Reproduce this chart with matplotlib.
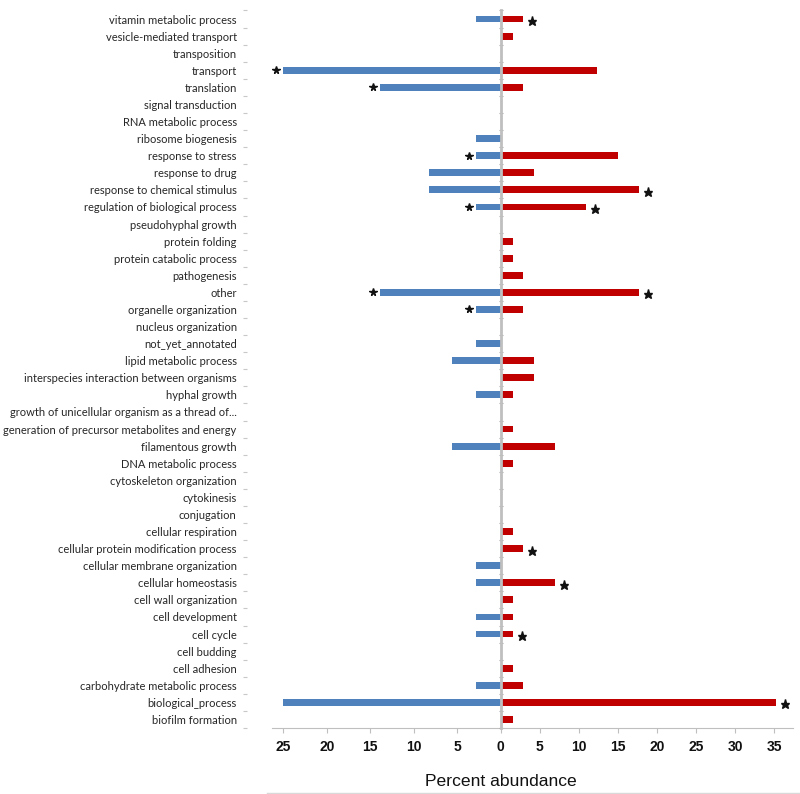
import matplotlib
matplotlib.use("Agg")
import matplotlib.pyplot as plt
from matplotlib.transforms import offset_copy
import numpy as np

categories = [
    "vitamin metabolic process", "vesicle-mediated transport", "transposition",
    "transport", "translation", "signal transduction", "RNA metabolic process",
    "ribosome biogenesis", "response to stress", "response to drug",
    "response to chemical stimulus", "regulation of biological process",
    "pseudohyphal growth", "protein folding", "protein catabolic process",
    "pathogenesis", "other", "organelle organization", "nucleus organization",
    "not_yet_annotated", "lipid metabolic process",
    "interspecies interaction between organisms", "hyphal growth",
    "growth of unicellular organism as a thread of...",
    "generation of precursor metabolites and energy", "filamentous growth",
    "DNA metabolic process", "cytoskeleton organization", "cytokinesis",
    "conjugation", "cellular respiration", "cellular protein modification process",
    "cellular membrane organization", "cellular homeostasis",
    "cell wall organization", "cell development", "cell cycle", "cell budding",
    "cell adhesion", "carbohydrate metabolic process", "biological_process",
    "biofilm formation",
]
blue_values = [2.8, 0, 0, 25.0, 13.9, 0, 0, 2.8, 2.8, 8.3, 8.3, 2.8, 0, 0, 0, 0,
               13.9, 2.8, 0, 2.8, 5.6, 0, 2.8, 0, 0, 5.6, 0, 0, 0, 0, 0, 0,
               2.8, 2.8, 0, 2.8, 2.8, 0, 0, 2.8, 25.0, 0]
red_values = [2.7, 1.4, 0, 12.2, 2.7, 0, 0, 0, 14.8, 4.1, 17.5, 10.8, 0, 1.4, 1.4,
              2.7, 17.5, 2.7, 0, 0, 4.1, 4.1, 1.4, 0, 1.4, 6.8, 1.4, 0, 0, 0,
              1.4, 2.7, 0, 6.8, 1.4, 1.4, 1.4, 0, 1.4, 2.7, 35.0, 1.4]
blue_star = ["transport", "translation", "response to stress",
             "regulation of biological process", "other", "organelle organization"]
red_star = ["vitamin metabolic process", "response to chemical stimulus",
            "regulation of biological process", "other",
            "cellular protein modification process", "cellular homeostasis",
            "cell cycle", "biological_process"]
left_ticks = [25, 20, 15, 10, 5, 0]
right_ticks = [5, 10, 15, 20, 25, 30, 35]

BLUE = "#4F81BD"
RED = "#C00000"
GRAY = "#BFBFBF"

W, H = 800, 794
fig = plt.figure(figsize=(W / 100, H / 100), dpi=100)

top_px, bot_px = 10.5, 728.0
x_lab, x_zero, x_end = 245.0, 500.7, 793.0
b = (H - bot_px) / H
h = (bot_px - top_px) / H

axL = fig.add_axes([x_lab / W, b, (x_zero - x_lab) / W, h])
axR = fig.add_axes([x_zero / W, b, (x_end - x_zero) / W, h])

n = len(categories)
y = np.arange(n)

# left (blue) axis: 8.69 px per unit
pxL = 8.69
axL.barh(y, blue_values, height=0.4, color=BLUE, zorder=2)
axL.set_xlim((x_zero - x_lab) / pxL, 0)
axL.set_ylim(n - 0.5, -0.5)
axL.set_yticks(y)
axL.set_yticklabels(categories, family=["Lato", "DejaVu Sans"], fontsize=8.0, color="#262626")
axL.set_yticks(np.arange(n + 1) - 0.5, minor=True)
axL.tick_params(axis="y", which="major", length=0, pad=6)
axL.tick_params(axis="y", which="minor", length=2.5, direction="inout", color="#C8C8C8", width=0.8)
axL.set_xticks(left_ticks)
axL.set_xticklabels([str(t) for t in left_ticks])
for s in ["top", "right", "left"]:
    axL.spines[s].set_visible(False)
axL.spines["bottom"].set_bounds((x_zero - 272.3) / pxL, 0)
axL.spines["bottom"].set_color(GRAY)

# right (red) axis: 7.82 px per unit
pxR = 7.82
axR.barh(y, red_values, left=0.17, height=0.4, color=RED, zorder=2)
axR.set_xlim(0, (x_end - x_zero) / pxR)
axR.set_ylim(n - 0.5, -0.5)
axR.set_yticks(np.arange(n + 1) - 0.5)
axR.set_yticklabels([])
axR.tick_params(axis="y", length=2.5, direction="inout", color="#A8A8A8", width=0.8)
axR.set_xticks(right_ticks)
axR.set_xticklabels([str(t) for t in right_ticks])
for s in ["top", "right"]:
    axR.spines[s].set_visible(False)
axR.spines["left"].set_color(GRAY)
axR.spines["left"].set_linewidth(2.0)
axR.spines["left"].set_zorder(3)
axR.spines["bottom"].set_color(GRAY)

for ax in (axL, axR):
    ax.tick_params(axis="x", length=3.5, direction="out", color=GRAY, width=0.8, pad=5)
    for lab in ax.get_xticklabels():
        lab.set_fontweight("bold")
        lab.set_fontsize(10)
        lab.set_family(["Liberation Sans", "DejaVu Sans"])
        lab.set_color("#111111")
    ax.patch.set_alpha(0)

# stars
trB = offset_copy(axL.transData, fig=fig, x=-7, y=0, units="dots")
trR = offset_copy(axR.transData, fig=fig, x=9, y=-2, units="dots")
for c in blue_star:
    i = categories.index(c)
    axL.plot(blue_values[i], i, marker="*", ms=5.5, color="#111111", transform=trB,
             clip_on=False, zorder=4)
for c in red_star:
    i = categories.index(c)
    axR.plot(red_values[i] + 0.17, i, marker="*", ms=6.5, color="#111111", transform=trR,
             clip_on=False, zorder=4)

fig.text(x_zero / W, (H - 781) / H, "Percent abundance", ha="center", va="center",
         fontsize=12.6, family=["Liberation Sans", "DejaVu Sans"], color="#111111")
fig.add_artist(plt.Line2D([267 / W, 1.0], [(H - 792.7) / H] * 2, color="#D9D9D9", lw=1.0))

fig.savefig("out.png", dpi=100)
